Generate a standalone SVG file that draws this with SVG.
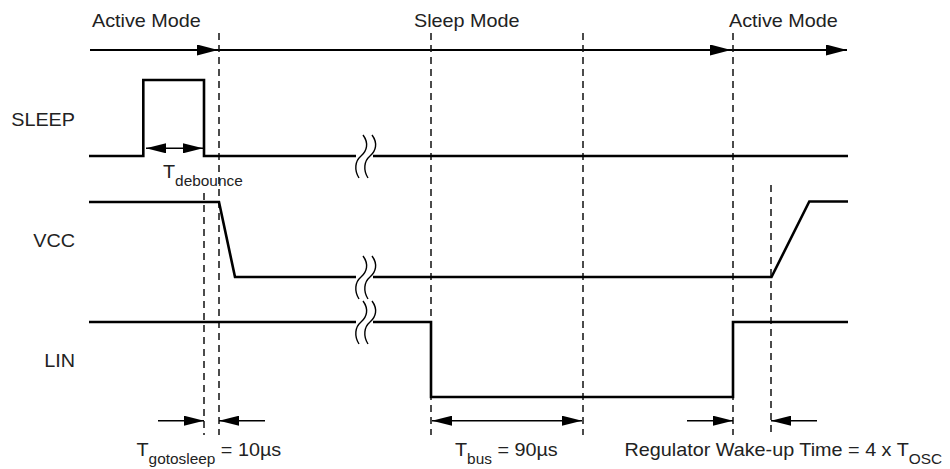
<svg xmlns="http://www.w3.org/2000/svg" width="950" height="469" viewBox="0 0 950 469">
<style>
  .t { font-family: "Liberation Sans", Arial, sans-serif; font-size: 18px; fill: #222; }
  .sub { font-size: 14px; }
  .sig { fill: none; stroke: #000; stroke-width: 2.6; stroke-linejoin: miter; }
  .axis { fill: none; stroke: #000; stroke-width: 1.8; }
  .dash { fill: none; stroke: #111; stroke-width: 1.5; stroke-dasharray: 7 5; }
  .dim { fill: none; stroke: #000; stroke-width: 1.5; }
  .brk { fill: none; stroke: #000; stroke-width: 1.4; }
</style>
<defs>
  <marker id="ah" markerUnits="userSpaceOnUse" markerWidth="21" markerHeight="11" refX="21" refY="5.5" orient="auto-start-reverse" viewBox="0 0 21 11">
    <path d="M0,0 L21,5.5 L0,11 Z" fill="#000"/>
  </marker>
  <marker id="ah2" markerUnits="userSpaceOnUse" markerWidth="20" markerHeight="10" refX="20" refY="5" orient="auto-start-reverse" viewBox="0 0 20 10">
    <path d="M0,0 L20,5 L0,10 Z" fill="#000"/>
  </marker>
  <path id="sq" d="M2,-21 C8,-13 6,-5 0,0 C-6,5 -7,14 -2,22"/>
</defs>

<g id="modes">
  <text class="t" transform="translate(92,27) scale(1.1,1)">Active Mode</text>
  <text class="t" transform="translate(414,27) scale(1.1,1)">Sleep Mode</text>
  <text class="t" transform="translate(729,27) scale(1.1,1)">Active Mode</text>
</g>

<g id="connectors">
  <line class="axis" x1="90" y1="50" x2="218" y2="50" marker-end="url(#ah)"/>
  <line class="axis" x1="218" y1="50" x2="731" y2="50" marker-end="url(#ah)"/>
  <line class="axis" x1="731" y1="50" x2="847" y2="50" marker-end="url(#ah)"/>

  <line class="dash" x1="219" y1="33" x2="219" y2="435"/>
  <line class="dash" x1="204" y1="193" x2="204" y2="435"/>
  <line class="dash" x1="431" y1="33" x2="431" y2="435"/>
  <line class="dash" x1="583" y1="33" x2="583" y2="435"/>
  <line class="dash" x1="733" y1="33" x2="733" y2="435"/>
  <line class="dash" x1="771" y1="185" x2="771" y2="435"/>

  <line class="dim" x1="146" y1="148.3" x2="203" y2="148.3" marker-start="url(#ah2)" marker-end="url(#ah2)"/>
  <line class="dim" x1="158" y1="420.7" x2="204" y2="420.7" marker-end="url(#ah2)"/>
  <line class="dim" x1="265" y1="420.7" x2="219" y2="420.7" marker-end="url(#ah2)"/>
  <line class="dim" x1="432" y1="420.7" x2="582" y2="420.7" marker-start="url(#ah2)" marker-end="url(#ah2)"/>
  <line class="dim" x1="687" y1="420.7" x2="733" y2="420.7" marker-end="url(#ah2)"/>
  <line class="dim" x1="817" y1="420.7" x2="771" y2="420.7" marker-end="url(#ah2)"/>
</g>

<g id="sleep">
  <text class="t" text-anchor="end" transform="translate(75,126) scale(1.1,1)">SLEEP</text>
  <path class="sig" d="M89,156 H143.3 V80 H204 V156 H356 M373,156 H848"/>
  <use href="#sq" class="brk" x="361" y="156"/>
  <use href="#sq" class="brk" x="370" y="156"/>
</g>

<g id="vcc">
  <text class="t" text-anchor="end" transform="translate(75,247) scale(1.1,1)">VCC</text>
  <path class="sig" d="M89,202 H219 L235,277 H356 M373,277 H771.5 L809.3,201.5 H848"/>
  <use href="#sq" class="brk" x="361" y="277"/>
  <use href="#sq" class="brk" x="370" y="277"/>
</g>

<g id="lin">
  <text class="t" text-anchor="end" transform="translate(75,367) scale(1.1,1)">LIN</text>
  <path class="sig" d="M89,322 H356 M373,322 H431 V397 H733 V322 H848"/>
  <use href="#sq" class="brk" x="361" y="322"/>
  <use href="#sq" class="brk" x="370" y="322"/>
</g>

<g id="labels">
  <text class="t" transform="translate(163,178) scale(1.1,1)">T<tspan class="sub" dy="8">debounce</tspan></text>
  <text class="t" transform="translate(136.5,456) scale(1.1,1)">T<tspan class="sub" dy="8">gotosleep</tspan><tspan dy="-8"> = 10µs</tspan></text>
  <text class="t" transform="translate(455,456) scale(1.1,1)">T<tspan class="sub" dy="8">bus</tspan><tspan dy="-8"> = 90µs</tspan></text>
  <text class="t" transform="translate(624.5,456) scale(1.1,1)">Regulator Wake-up Time = 4 x T<tspan class="sub" dy="8">OSC</tspan></text>
</g>
</svg>
